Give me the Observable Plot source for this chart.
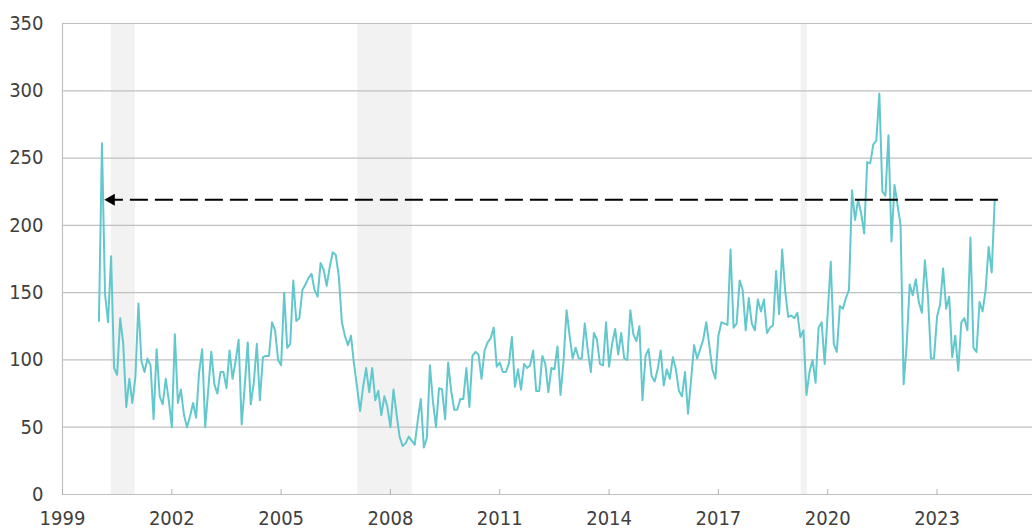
<!DOCTYPE html>
<html><head><meta charset="utf-8">
<script src="https://cdn.jsdelivr.net/npm/d3@7"></script>
<script src="https://cdn.jsdelivr.net/npm/@observablehq/plot@0.6"></script>
<style>
html,body{margin:0;padding:0;background:#fff;}
#chart svg{display:block;}
</style></head><body><div id="chart"></div>
<script>
// Monthly series, first value = Jan 2000
const startYear = 2000;
const values = [
129,261,149,128,177,94,89,131,112,65,86,68,
87,142,99,91,101,96,56,108,73,67,86,70,
50,119,68,78,59,50,58,68,57,91,108,50,
78,106,82,75,91,91,79,107,86,99,115,52,
80,113,67,83,112,70,102,103,103,128,122,100,
96,150,109,112,159,129,131,152,156,161,164,152,
147,172,167,155,169,180,178,162,128,118,111,118,
97,80,62,80,94,76,94,70,77,59,73,65,
50,78,60,43,36,38,43,40,37,55,71,35,
42,96,69,50,79,78,56,98,77,63,63,71,
71,94,65,103,106,104,86,107,113,116,124,95,
98,91,91,97,117,80,93,78,97,94,96,107,
77,77,103,97,76,94,93,110,74,99,137,118,
101,109,101,101,127,107,91,120,115,97,96,128,
95,112,123,104,120,101,100,137,119,114,125,70,
103,108,88,84,93,107,81,93,86,102,93,77,
73,91,60,85,111,101,108,115,128,111,93,86,
118,128,127,126,182,124,127,159,152,122,146,127,
122,145,136,145,120,124,126,166,134,182,151,132,
133,131,135,117,122,74,91,100,83,124,128,97,
135,173,112,106,140,138,146,152,226,204,219,209,
194,247,246,260,263,298,225,222,267,188,230,215,
200,82,111,156,148,160,143,135,174,148,101,101,
132,141,168,138,147,102,118,92,128,131,122,191,
109,106,143,136,152,184,165,219
];
const xTicks = [1999, 2002, 2005, 2008, 2011, 2014, 2017, 2020, 2023];
const yTicks = [0, 50, 100, 150, 200, 250, 300, 350];
const bandStarts = [2000.34, 2007.10, 2019.27];
const bandEnds = [2001.0, 2008.60, 2019.44];
const arrowLevels = [219];
const arrowFromX = [2024.67];
const arrowToX = [2000.23];

const series = values.map((v, i) => ({date: startYear + i / 12, value: v}));
const bands = bandStarts.map((s, i) => ({start: s, end: bandEnds[i]}));
const arrows = arrowLevels.map((y, i) => ({x1: arrowFromX[i], x2: arrowToX[i], y}));

const font = '"Liberation Sans Narrow","Arial Narrow","DejaVu Sans Condensed","Roboto Condensed",Roboto,sans-serif';
const chart = Plot.plot({
  width: 1032, height: 529,
  marginLeft: 62, marginRight: 0, marginTop: 23, marginBottom: 35,
  style: {fontFamily: font, fontSize: "20px", color: "#404040", background: "#fff", fontStretch: "condensed"},
  x: {domain: [1999, 2025.62], label: null},
  y: {domain: [0, 350], label: null},
  marks: [
    Plot.rect(bands, {x1: "start", x2: "end", fill: "#f2f2f2"}),
    Plot.gridY(yTicks, {stroke: "#c0c0c0", strokeOpacity: 1, strokeWidth: 1.2}),
    Plot.ruleX([1999], {stroke: "#c0c0c0", strokeWidth: 1.2}),
    Plot.axisY(yTicks, {tickSize: 0, tickPadding: 19, label: null, fill: "#404040", fontSize: 20}),
    Plot.axisX(xTicks, {anchor: "top", frameAnchor: "bottom", tickSize: 6, fill: "none", stroke: "#b0b0b0", label: null}),
    Plot.axisX(xTicks, {tickSize: 0, tickPadding: 16, tickFormat: d => String(d), label: null, fill: "#404040", fontSize: 20}),
    Plot.line(series, {x: "date", y: "value", stroke: "#62c8cd", strokeWidth: 2}),
    Plot.link(arrows, {x1: "x1", x2: "x2", y1: "y", y2: "y", stroke: "#000", strokeWidth: 2, strokeDasharray: "18,7"}),
    Plot.dot(arrows, {x: "x2", y: "y", symbol: "triangle", rotate: -90, fill: "#000", stroke: "none", r: 4.5, dx: 4})
  ]
});
document.getElementById("chart").appendChild(chart);
</script></body></html>
